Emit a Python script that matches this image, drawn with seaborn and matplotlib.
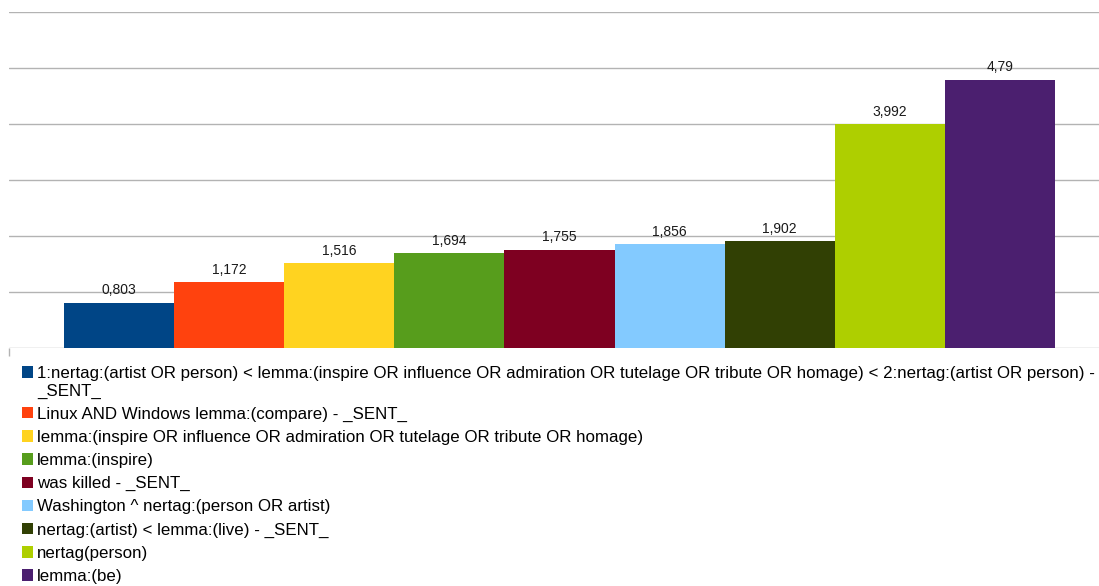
import matplotlib
matplotlib.use("Agg")
import matplotlib.pyplot as plt
import matplotlib.patches as mpatches
from matplotlib.legend_handler import HandlerPatch
import seaborn as sns

names = [
    "1:nertag:(artist OR person) < lemma:(inspire OR influence OR admiration OR tutelage OR tribute OR homage) < 2:nertag:(artist OR person) -\n_SENT_",
    "Linux AND Windows lemma:(compare) - _SENT_",
    "lemma:(inspire OR influence OR admiration OR tutelage OR tribute OR homage)",
    "lemma:(inspire)",
    "was killed - _SENT_",
    "Washington ^ nertag:(person OR artist)",
    "nertag:(artist) < lemma:(live) - _SENT_",
    "nertag(person)",
    "lemma:(be)",
]
values = [0.803, 1.172, 1.516, 1.694, 1.755, 1.856, 1.902, 3.992, 4.79]
value_labels = ["0,803", "1,172", "1,516", "1,694", "1,755", "1,856", "1,902", "3,992", "4,79"]
colors = ["#004586", "#ff420e", "#ffd320", "#579d1c", "#7e0021",
          "#83caff", "#314004", "#aecf00", "#4b1f6f"]

sns.set_theme(style="white")
plt.rcParams["font.family"] = ["Liberation Sans", "DejaVu Sans"]

fig = plt.figure(figsize=(10.99, 5.86), dpi=100)
ax = fig.add_axes([9 / 1099, (586 - 348) / 586, 1 - 9 / 1099, (348 - 12) / 586])

sns.barplot(x=names, y=values, hue=names, palette=colors, width=1.0,
            saturation=1, legend=True, ax=ax, linewidth=0)

ax.set_ylim(0, 6)
ax.set_xlim(-1.0, 8.9)
ax.set_yticks(range(0, 7))
ax.yaxis.grid(True, color="#b3b3b3", linewidth=1)
ax.set_axisbelow(True)
ax.set_yticklabels([])
ax.tick_params(axis="y", length=0)
ax.set_xticks([-1.0])
ax.set_xticklabels([])
ax.tick_params(axis="x", length=6, color="#b3b3b3", width=1, direction="out", bottom=True)
for s in ax.spines.values():
    s.set_visible(False)
ax.set_xlabel("")
ax.set_ylabel("")

for i, c in enumerate(ax.containers):
    ax.bar_label(c, labels=[value_labels[i]], padding=4, fontsize=10, color="#1a1a1a")

# Rebuild legend so the first (two-line) entry's marker aligns with its first line
old = ax.get_legend()
handles = list(old.legend_handles)
labels = [t.get_text() for t in old.get_texts()]
old.remove()

FS = 12.2


def top_patch(legend, orig_handle, xdescent, ydescent, width, height, fontsize):
    return mpatches.Rectangle((-xdescent, -ydescent + 0.6 * fontsize), width, height)


leg = ax.legend(handles, labels, loc="upper left",
                bbox_to_anchor=(22 / 1099, 1 - 366 / 586),
                bbox_transform=fig.transFigure, frameon=False,
                fontsize=FS, handlelength=0.65, handleheight=0.65,
                handletextpad=0.25, labelspacing=0.48, borderaxespad=0, borderpad=0,
                handler_map={handles[0]: HandlerPatch(patch_func=top_patch)})
for t in leg.get_texts():
    t.set_color("#000000")

fig.savefig("out.png", dpi=100)
